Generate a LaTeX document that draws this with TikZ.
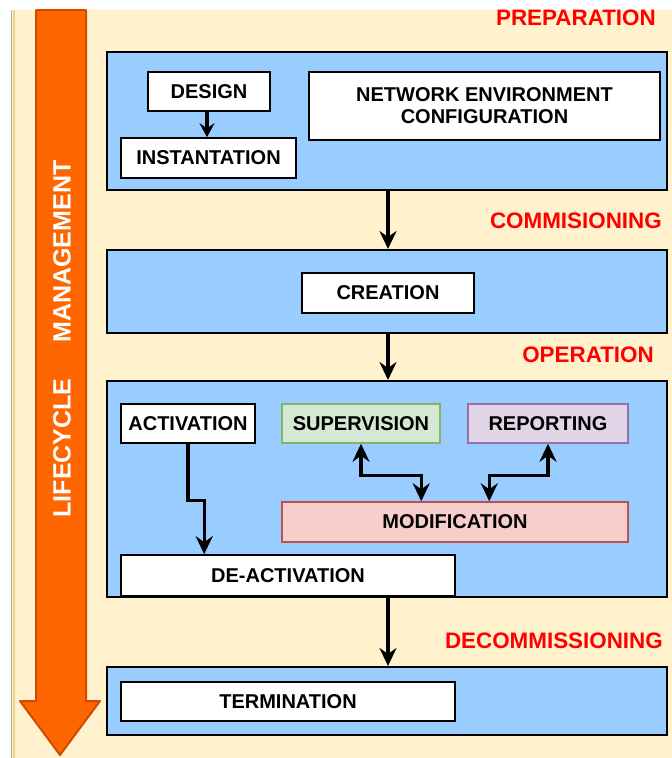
\documentclass[tikz,border=0pt]{standalone}
\usepackage{fontspec}
\setmainfont{Liberation Sans}
\usetikzlibrary{arrows.meta,calc}
\definecolor{cream}{HTML}{FFF2CC}
\definecolor{phaseblue}{HTML}{99CCFF}
\definecolor{lcorange}{HTML}{FF6600}
\definecolor{lcorangedark}{HTML}{D04A00}
\definecolor{supfill}{HTML}{D5E8D4}
\definecolor{supline}{HTML}{82B366}
\definecolor{repfill}{HTML}{E1D5E7}
\definecolor{repline}{HTML}{9673A6}
\definecolor{modfill}{HTML}{F8CECC}
\definecolor{modline}{HTML}{B85450}
\definecolor{edgegray}{HTML}{B0B0B0}
\definecolor{edgegold}{HTML}{E8D48A}
\tikzset{
  phase/.style={draw=black, fill=phaseblue, line width=2pt, inner sep=0pt},
  task/.style={draw=black, fill=white, line width=1.6pt, inner sep=0pt,
    font=\fontsize{20}{23}\selectfont\bfseries, align=center},
  phaselabel/.style={text=red, font=\fontsize{22.4}{25}\selectfont\bfseries, anchor=east, inner sep=0pt},
  tip/.style={Stealth[length=18pt,width=17pt,inset=6pt]},
  conn/.style={line width=3.2pt, -{Stealth[length=18pt,width=17pt,inset=6pt]}},
  shortconn/.style={line width=3.2pt, -{Stealth[length=14pt,width=15pt,inset=5pt]}},
  biconn/.style={line width=3.2pt, {Stealth[length=18pt,width=17pt,inset=6pt]}-{Stealth[length=18pt,width=17pt,inset=6pt]}}
}
\begin{document}
\begin{tikzpicture}[x=1pt,y=-1pt]
  % page and backdrop
  \fill[white] (0,0) rectangle (672,758);
  \useasboundingbox (0,0) rectangle (672,758);
  \fill[cream] (11,10) rectangle (672,758);
  \draw[edgegray, line width=1.5pt] (11.5,10) -- (11.5,758);
  \draw[edgegold, line width=2pt] (14,10) -- (14,758);

  % lifecycle arrow
  \draw[fill=lcorange, draw=lcorangedark, line width=2pt, line join=round]
    (36,10) -- (86,10) -- (86,701) -- (100,701) -- (60,755) -- (20,701) -- (36,701) -- cycle;
  \node[rotate=90, text=white, font=\fontsize{25}{28}\selectfont\bfseries, inner sep=0pt]
    (lcm) at (62,339) {LIFECYCLE\hspace{36pt}MANAGEMENT};

  % phase labels
  \node[phaselabel] (lprep) at (656,18) {PREPARATION};
  \node[phaselabel] (lcomm) at (662,221) {COMMISIONING};
  \node[phaselabel] (lop) at (654,355) {OPERATION};
  \node[phaselabel] (ldecom) at (663,641) {DECOMMISSIONING};

  % phase containers
  \node[phase, minimum width=560pt, minimum height=138pt] (prep) at (387,121) {};
  \node[phase, minimum width=560pt, minimum height=83pt] (comm) at (387,291.5) {};
  \node[phase, minimum width=560pt, minimum height=216pt] (op) at (387,489) {};
  \node[phase, minimum width=560pt, minimum height=68pt] (decom) at (387,701) {};

  % preparation
  \node[task, minimum width=122pt, minimum height=39pt] (design) at (209,91.5) {DESIGN};
  \node[task, minimum width=175pt, minimum height=40pt] (inst) at (208.5,158) {INSTANTATION};
  \node[task, minimum width=351pt, minimum height=68pt] (netenv) at (484.5,106)
    {NETWORK ENVIRONMENT\\[-1pt]CONFIGURATION};

  % commissioning
  \node[task, minimum width=172pt, minimum height=40pt] (creation) at (388,293) {CREATION};

  % operation
  \node[task, minimum width=134pt, minimum height=39pt] (act) at (188,423.5) {ACTIVATION};
  \node[task, fill=supfill, draw=supline, line width=1.5pt, minimum width=158pt, minimum height=39pt]
    (sup) at (361,423.5) {SUPERVISION};
  \node[task, fill=repfill, draw=repline, line width=1.5pt, minimum width=160pt, minimum height=39pt]
    (rep) at (548,423.5) {REPORTING};
  \node[task, fill=modfill, draw=modline, line width=1.5pt, minimum width=346pt, minimum height=40pt]
    (mod) at (455,522) {MODIFICATION};
  \node[task, minimum width=334pt, minimum height=41pt] (deact) at (288,575.5) {DE-ACTIVATION};

  % decommissioning
  \node[task, minimum width=334pt, minimum height=39pt] (term) at (288,701.5) {TERMINATION};

  % connectors
  \draw[shortconn] ([xshift=-2pt]design.south) -- ([xshift=-2pt]design.south |- inst.north);
  \draw[conn] ([xshift=1pt]prep.south) -- ([xshift=1pt]comm.north);
  \draw[conn] ([xshift=1pt]comm.south) -- ([xshift=1pt]op.north);
  \draw[conn] ([xshift=1pt]op.south) -- ([xshift=1pt]decom.north);
  \draw[conn] (act.south) -- ++(0,57) -| ($(deact.north west)+(84,0)$);
  \draw[biconn] (sup.south) -- ++(0,32) -| ($(mod.north west)+(140,0)$);
  \draw[biconn] (rep.south) -- ++(0,32) -| ($(mod.north west)+(208,0)$);
\end{tikzpicture}
\end{document}
